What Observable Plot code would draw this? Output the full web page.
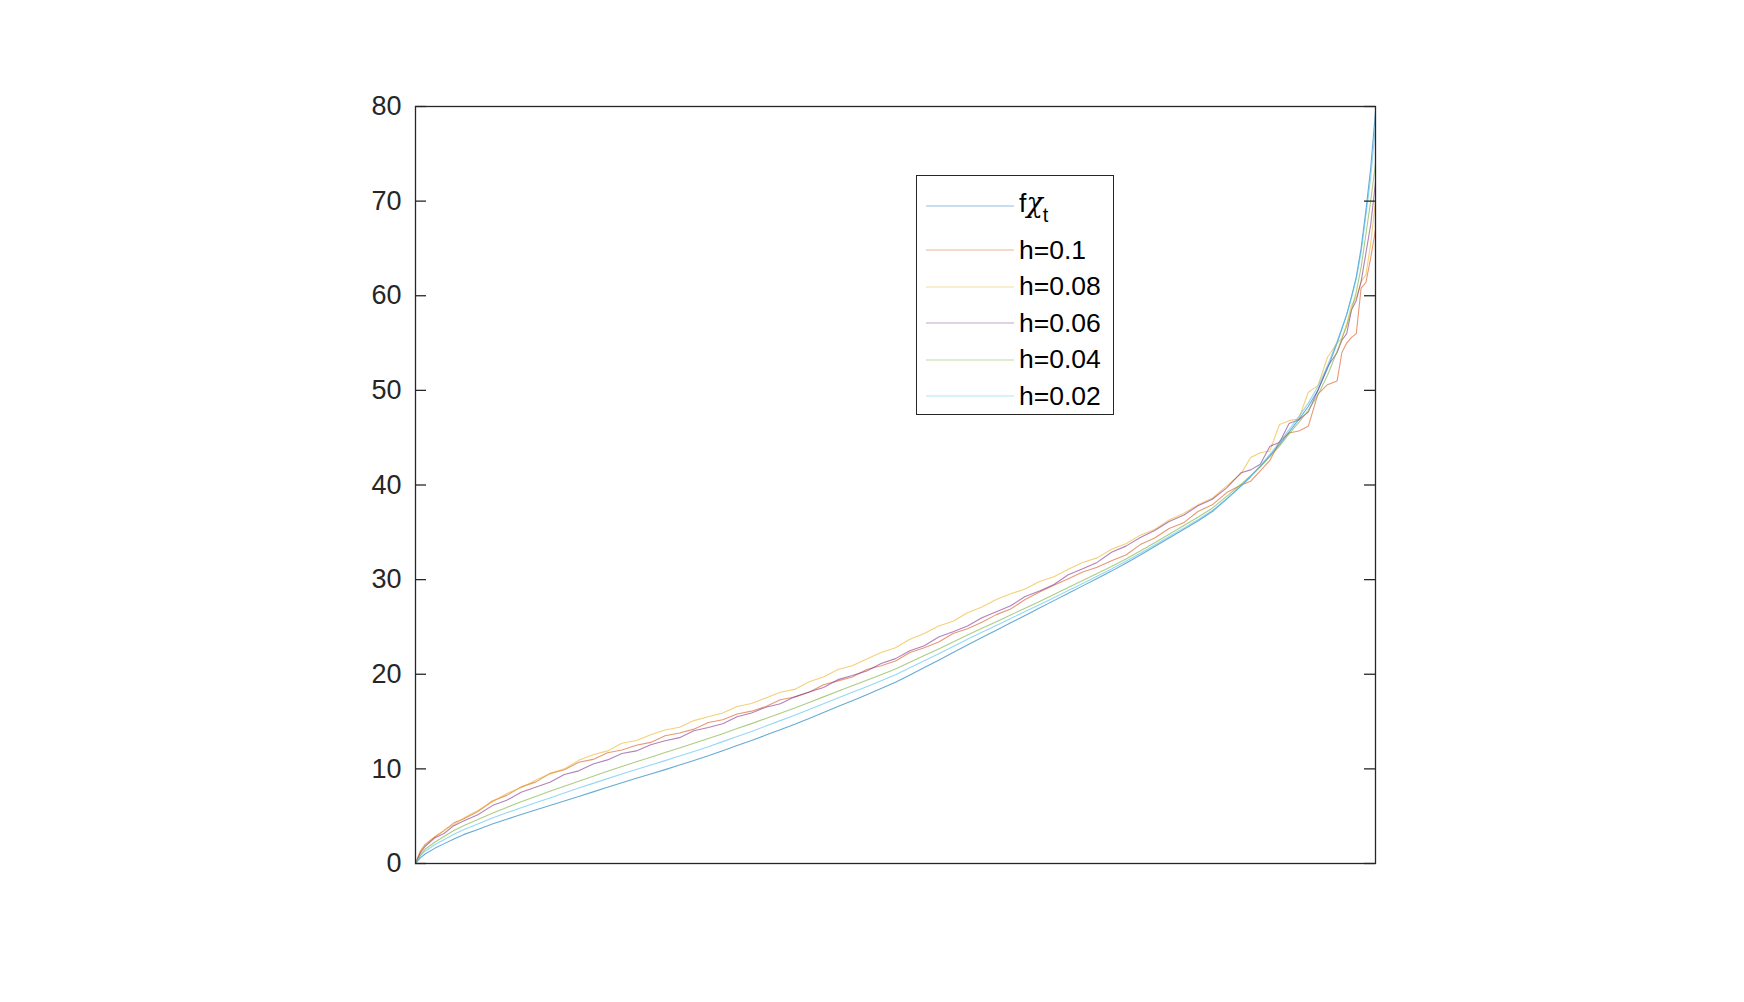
<!DOCTYPE html>
<html>
<head>
<meta charset="utf-8">
<script src="https://cdn.jsdelivr.net/npm/d3@7"></script>
<script src="https://cdn.jsdelivr.net/npm/@observablehq/plot@0.6"></script>
<style>
  body { margin: 0; background: #fff; }
  #wrap { position: relative; width: 1744px; height: 1002px; }
  #legend { position: absolute; left: 916px; top: 175px; width: 198px; height: 240px;
    border: 1.3px solid #262626; background: #fff; box-sizing: border-box;
    font-family: "Liberation Sans", Arial, sans-serif; font-size: 26.5px; color: #000; }
  .row { position: absolute; left: 0; width: 100%; height: 36px; display: flex; align-items: center; }
  .row svg { margin-left: 9px; flex: none; }
  .row span.lab { margin-left: 5px; white-space: nowrap; }
  .chi { font-family: "DejaVu Serif", serif; font-style: italic; font-size: 27px; }
  .sub { font-size: 20px; position: relative; top: 10px; }
</style>
</head>
<body>
<div id="wrap"></div>
<script>
// x positions along the curves (fraction of the horizontal extent)
const t = [0,0.005,0.01,0.02,0.03,0.04,0.05,0.065,0.08,0.095,0.11,0.125,0.14,0.155,0.17,0.185,0.2,0.215,0.23,0.245,0.26,0.275,0.29,0.305,0.32,0.335,0.35,0.365,0.38,0.395,0.41,0.425,0.44,0.455,0.47,0.485,0.5,0.515,0.53,0.545,0.56,0.575,0.59,0.605,0.62,0.635,0.65,0.665,0.68,0.695,0.71,0.725,0.74,0.755,0.77,0.785,0.8,0.815,0.83,0.845,0.86,0.87,0.88,0.89,0.9,0.91,0.92,0.93,0.94,0.95,0.96,0.965,0.97,0.975,0.98,0.985,0.99,0.995,1];

const fchi = [0,0.6,1.0,1.6,2.1,2.6,3.05,3.6,4.17,4.68, 5.17,5.65,6.13,6.61,7.09,7.57,8.05,8.53,9.0,9.45, 9.92,10.4,10.88,11.38,11.92,12.46,13.0,13.57,14.14,14.71, 15.32,15.95,16.58,17.21,17.84,18.49,19.15,19.93,20.71,21.49, 22.29,23.1,23.88,24.66,25.44,26.22,27.0,27.78,28.56,29.34, 30.12,30.9,31.74,32.6,33.5,34.4,35.3,36.2,37.2,38.5, 39.9,40.9,41.95,43.1,44.3,45.6,46.9,48.3,50.0,52.3, 55.0,56.5,58.0,59.9,62.0,65.0,69.0,73.5,79.5];

const h01 = [0,1.3,2.0,2.8,3.5,4.3,4.7,5.5,6.6,7.2, 8.1,8.6,9.5,9.9,10.7,11.0,11.7,12.0,12.5,12.8, 13.5,13.8,14.2,14.9,15.2,15.8,16.1,16.6,17.3,17.6, 18.1,18.9,19.3,19.7,20.5,20.9,21.4,22.3,22.8,23.4, 24.3,24.8,25.5,26.3,26.9,27.9,28.7,29.4,30.1,30.8, 31.3,32.0,32.6,33.7,34.4,35.4,36.0,37.2,37.9,39.2, 40.0,40.4,41.5,42.6,44.6,45.5,45.7,46.2,49.6,50.6, 51.0,54.0,55.0,55.6,56.0,60.8,61.4,64.0,67.0];

const h008 = [0,1.3,2.0,2.8,3.5,4.1,4.8,5.6,6.5,7.4, 8.0,8.8,9.5,10.0,10.9,11.5,11.9,12.7,13.0,13.6, 14.1,14.4,15.1,15.5,15.9,16.6,16.9,17.5,18.1,18.4, 19.2,19.7,20.5,20.9,21.6,22.3,22.8,23.7,24.3,25.1, 25.6,26.5,27.1,27.9,28.5,29.0,29.8,30.3,31.1,31.8, 32.3,33.2,33.8,34.7,35.3,36.3,37.0,37.9,38.6,39.9, 41.2,42.9,43.4,43.6,46.4,46.8,47.0,49.8,50.5,53.5, 55.0,55.5,57.0,59.0,59.8,61.5,62.2,65.5,70.0];

const h006 = [0,1.1,1.8,2.7,3.2,4.0,4.5,5.15,6.12,6.68, 7.52,8.05,8.58,9.41,9.79,10.52,10.95,11.63,11.9,12.55, 12.97,13.3,14.03,14.38,14.77,15.51,15.9,16.52,16.89,17.61, 18.12,18.6,19.43,19.86,20.34,21.14,21.65,22.48,23.01,23.94, 24.49,25.1,25.98,26.61,27.24,28.22,28.8,29.48,30.51,31.14, 31.82,32.9,33.54,34.45,35.2,36.15,36.8,37.8,38.5,39.7, 41.3,41.6,42.2,44.1,44.5,46.5,46.9,47.7,50.0,52.5, 54.0,55.3,56.0,58.5,59.5,61.5,64.5,67.5,72.0];

const h004 = [0,0.9,1.5,2.25,2.88,3.48,4.0,4.65,5.32,5.93, 6.52,7.07,7.63,8.16,8.69,9.22,9.75,10.25,10.75,11.23, 11.72,12.2,12.7,13.2,13.72,14.26,14.78,15.33,15.88,16.43, 17.02,17.61,18.2,18.79,19.36,19.95,20.55,21.26,21.97,22.68, 23.41,24.15,24.86,25.56,26.27,26.98,27.7,28.43,29.16,29.9, 30.64,31.38,32.19,33.02,33.9,34.8,35.7,36.6,37.55,38.8, 40.1,41.0,41.95,43.0,44.1,45.4,46.6,47.9,49.5,51.6, 54.1,55.5,56.8,58.5,60.4,63.0,66.5,70.0,74.0];

const h002 = [0,0.8,1.3,1.98,2.53,3.08,3.57,4.18,4.8,5.36, 5.89,6.41,6.93,7.45,7.97,8.47,8.97,9.46,9.94,10.4, 10.87,11.36,11.84,12.34,12.88,13.42,13.96,14.53,15.1,15.67, 16.27,16.88,17.48,18.09,18.69,19.31,19.95,20.69,21.43,22.17, 22.93,23.7,24.43,25.16,25.89,26.62,27.35,28.08,28.84,29.6, 30.36,31.12,31.94,32.78,33.66,34.55,35.44,36.33,37.3,38.55, 39.9,40.9,42.05,43.25,44.5,45.85,47.2,48.65,50.4,52.6, 55.2,56.6,58.0,59.8,61.8,64.6,68.5,72.5,78.0];

const seriesNames = ["fχt", "h=0.1", "h=0.08", "h=0.06", "h=0.04", "h=0.02"];
const seriesValues = [fchi, h01, h008, h006, h004, h002];
const seriesColors = ["#0072BD", "#D95319", "#EDB120", "#7E2F8E", "#77AC30", "#4DBEEE"];
const yTicks = [0, 10, 20, 30, 40, 50, 60, 70, 80];

const rows = seriesNames.flatMap((s, k) => t.map((x, i) => ({t: x, v: seriesValues[k][i], s})));

const axisColor = "#262626";
const chart = Plot.plot({
  width: 1744,
  height: 1002,
  marginLeft: 415,
  marginRight: 369,
  marginTop: 106,
  marginBottom: 139,
  x: {domain: [0, 1], axis: null},
  y: {domain: [0, 80], axis: null},
  color: {domain: seriesNames, range: seriesColors},
  style: {fontFamily: '"Liberation Sans", Arial, sans-serif', fontSize: "27px", color: axisColor, background: "#fff"},
  marks: [
    Plot.line(rows, {x: "t", y: "v", z: "s", stroke: "s", strokeWidth: 1.1, strokeOpacity: 0.6}),
    Plot.tickY(yTicks, {y: d => d, insetRight: 949, stroke: axisColor, strokeWidth: 1.3}),
    Plot.tickY(yTicks, {y: d => d, insetLeft: 949, stroke: axisColor, strokeWidth: 1.3}),
    Plot.axisY({ticks: yTicks, tickSize: 0, tickPadding: 14, label: null, fontSize: 27, fill: axisColor, tickFormat: d => String(d)}),
    Plot.frame({stroke: axisColor, strokeWidth: 1.3})
  ]
});

const wrap = document.getElementById("wrap");
wrap.appendChild(chart);

// legend (HTML overlay inside the axes)
const legend = document.createElement("div");
legend.id = "legend";
const rowCenters = [30, 74, 110.5, 147, 183.5, 220];
seriesNames.forEach((name, k) => {
  const row = document.createElement("div");
  row.className = "row";
  row.style.top = (rowCenters[k] - 18) + "px";
  const sw = d3.create("svg").attr("width", 88).attr("height", 36);
  sw.append("line").attr("x1", 0).attr("x2", 88).attr("y1", 18).attr("y2", 18)
    .attr("stroke", seriesColors[k]).attr("stroke-opacity", 0.45).attr("stroke-width", 1.2);
  row.appendChild(sw.node());
  const lab = document.createElement("span");
  lab.className = "lab";
  if (k === 0) {
    lab.innerHTML = 'f<span class="chi">χ</span><span class="sub">t</span>';
    lab.style.position = "relative";
    lab.style.top = "-3px";
  } else {
    lab.textContent = name;
  }
  row.appendChild(lab);
  legend.appendChild(row);
});
wrap.appendChild(legend);
</script>
</body>
</html>
